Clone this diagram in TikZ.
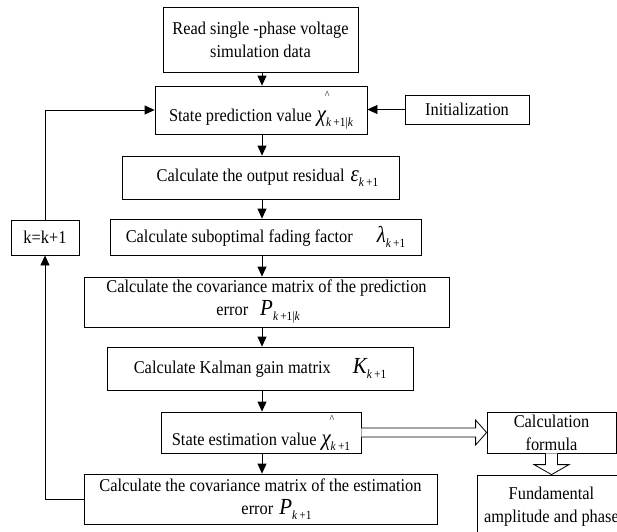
\documentclass[tikz,border=0pt]{standalone}
\usepackage{fontspec}
\setmainfont{Liberation Serif}[FakeStretch=0.91]
\usetikzlibrary{arrows.meta,calc}
\newcommand\mysub[1]{\raisebox{-5pt}{\fontsize{12.5}{12.5}\selectfont #1}}
\newcommand\mysym[1]{{\fontsize{23}{23}\selectfont\itshape #1}}
\newcommand\mhat{\makebox[0pt][l]{\hspace{8pt}\raisebox{23pt}{\fontsize{11}{11}\selectfont\textasciicircum}}}
\begin{document}
\begin{tikzpicture}[x=1pt,y=-1pt,
  box/.style={draw, line width=0.8pt, inner sep=0pt, align=center, font=\fontsize{18}{23}\selectfont},
  arr/.style={-{Triangle[length=10pt,width=9pt]}, line width=0.8pt},
  hollow/.style={draw, line width=0.8pt, fill=white}]
\useasboundingbox (0,0) rectangle (617,531);
\clip (0,0) rectangle (617,531);
\coordinate (col) at (262,0);
\node[box, minimum width=195pt, minimum height=65pt] (b1) at (260.5,39.5) {Read single -phase voltage\\simulation data};
\node[box, minimum width=212pt, minimum height=48pt] (b2) at (261,110) {State prediction value\hspace{5pt}\mhat\mysym{χ}\mysub{\textit{k}\,+1|\textit{k}}};
\node[box, minimum width=124pt, minimum height=29pt] (init) at (467,109.5) {Initialization};
\node[box, minimum width=277pt, minimum height=43pt] (b3) at (260.5,177.5) {\hspace{14pt}Calculate the output residual\hspace{6pt}\mysym{ε}\mysub{\textit{k}\,+1}};
\node[box, minimum width=311pt, minimum height=36pt] (b4) at (265.5,237) {Calculate suboptimal fading factor\hspace{24pt}\mysym{λ}\mysub{\textit{k}\,+1}};
\node[box, minimum width=365pt, minimum height=50pt, align=left] (b5) at (266.5,302) {Calculate the covariance matrix of the prediction\\\hspace*{110pt}error\hspace{12pt}\mysym{P}\mysub{\textit{k}\,+1|\textit{k}}};
\node[box, minimum width=306pt, minimum height=43pt] (b6) at (260,368.5) {Calculate Kalman gain matrix \quad\mysym{K}\mysub{\textit{k}\,+1}};
\node[box, minimum width=200pt, minimum height=41pt] (b7) at (261,432.5) {State estimation value\hspace{5pt}\mhat\mysym{χ}\mysub{\textit{k}\,+1}};
\node[box, minimum width=353pt, minimum height=50pt, align=left] (b8) at (260.5,499) {Calculate the covariance matrix of the estimation\\\hspace*{142pt}error\hspace{6pt}\mysym{P}\mysub{\textit{k}\,+1}};
\node[box, minimum width=68pt, minimum height=35pt] (kb) at (45,237.5) {k=k+1};
\node[box, minimum width=129pt, minimum height=41pt] (calc) at (551.5,432.5) {Calculation\\formula};
\node[box, minimum width=149pt, minimum height=64pt] (fund) at (551.5,507) {Fundamental\\amplitude and phase};
% main column arrows
\draw[arr] (b1.south -| col) -- (b2.north -| col);
\draw[arr] (b2.south -| col) -- (b3.north -| col);
\draw[arr] (b3.south -| col) -- (b4.north -| col);
\draw[arr] (b4.south -| col) -- (b5.north -| col);
\draw[arr] (b5.south -| col) -- (b6.north -| col);
\draw[arr] (b6.south -| col) -- (b7.north -| col);
\draw[arr] (b7.south -| col) -- (b8.north -| col);
% initialization
\draw[arr] (init.west) -- (init.west -| b2.east);
% feedback loop
\draw[arr] (b8.west) -| (kb.south);
\draw[arr] (kb.north) |- (b2.west);
% hollow arrows
\draw[hollow] ($(b7.east)+(0,-4.5)$) -- ($(calc.west)+(-11,-4.5)$) -- ($(calc.west)+(-11,-12.5)$) -- (calc.west) -- ($(calc.west)+(-11,12.5)$) -- ($(calc.west)+(-11,4.5)$) -- ($(b7.east)+(0,4.5)$);
\draw[hollow] ($(calc.south)+(-6,0)$) -- ($(fund.north)+(-6,-10)$) -- ($(fund.north)+(-17.5,-10)$) -- (fund.north) -- ($(fund.north)+(17.5,-10)$) -- ($(fund.north)+(6,-10)$) -- ($(calc.south)+(6,0)$);
\end{tikzpicture}
\end{document}
